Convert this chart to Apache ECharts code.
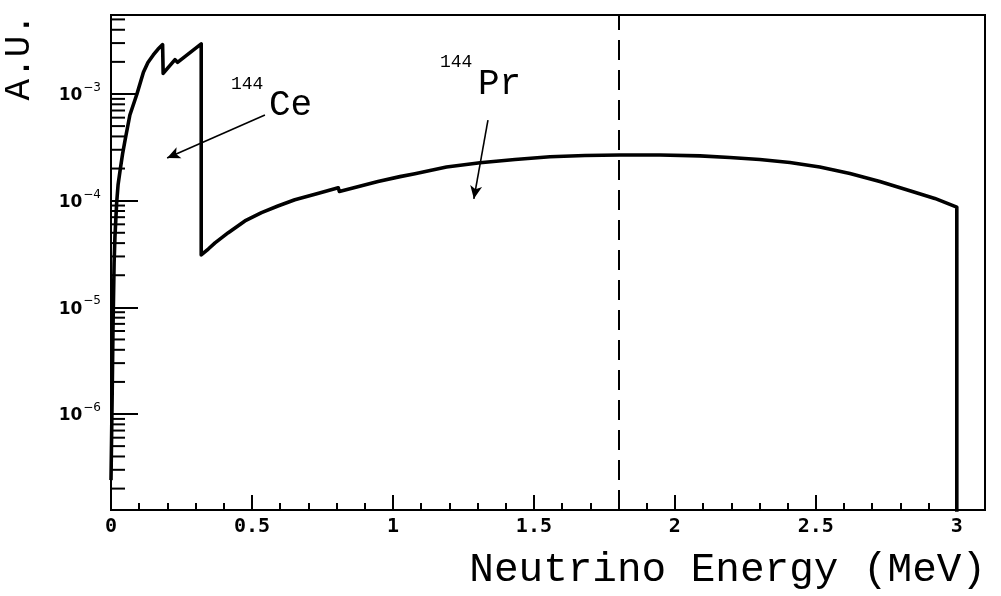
<!DOCTYPE html>
<html>
<head>
<meta charset="utf-8">
<script src="https://cdn.jsdelivr.net/npm/echarts@6/dist/echarts.min.js"></script>
<style>
  html, body { margin: 0; padding: 0; background: #fff; }
  #chart { width: 1001px; height: 596px; }
</style>
</head>
<body>
<div id="chart"></div>
<script>
// spectrum: energy in MeV, intensity in A.U.
const energy = [
  0, 0.004, 0.007, 0.011, 0.014, 0.020, 0.025, 0.032, 0.041, 0.050, 0.067, 0.092, 0.115, 0.131, 0.150, 0.167, 0.183,
  0.185, 0.227, 0.236, 0.320,
  0.320, 0.345, 0.369, 0.416, 0.475, 0.534, 0.592, 0.652, 0.730, 0.806,
  0.810, 0.947, 1.025, 1.078, 1.190, 1.309, 1.433, 1.557, 1.681, 1.805, 1.947, 2.089, 2.195, 2.301,
  2.408, 2.514, 2.621, 2.727, 2.845, 2.922, 3.000, 3.000]
const intensity = [
  2.4e-7, 1.4e-6, 6.1e-6, 2.6e-5, 4.6e-5, 9.5e-5, 1.40e-4, 1.9e-4, 2.74e-4, 3.7e-4, 6.35e-4, 1.0e-3, 1.60e-3, 1.97e-3, 2.32e-3, 2.64e-3, 2.9e-3,
  1.56e-3, 2.1e-3, 1.98e-3, 2.95e-3,
  3.1e-5, 3.52e-5, 4.02e-5, 5.01e-5, 6.46e-5, 7.73e-5, 8.91e-5, 1.02e-4, 1.16e-4, 1.32e-4,
  1.22e-4, 1.51e-4, 1.68e-4, 1.79e-4, 2.07e-4, 2.27e-4, 2.43e-4, 2.58e-4, 2.65e-4, 2.68e-4, 2.68e-4, 2.63e-4, 2.54e-4, 2.43e-4,
  2.28e-4, 2.07e-4, 1.80e-4, 1.51e-4, 1.21e-4, 1.05e-4, 8.7e-5, 1e-9]

const endpointEnergy = 1.805
// arrows [start, end] in data units
const ceArrow = [[0.546, 6.35e-4], [0.199, 2.51e-4]]
const prArrow = [[1.337, 5.7e-4], [1.287, 1.04e-4]]

const xMin = 0
const xMax = 3.1
const yMin = 1.26e-7
const yMax = 5.5e-3
const decades = [-7, -6, -5, -4, -3]

const minorTicks = []
decades.forEach((d) => {
  for (let k = 2; k <= 9; k++) {
    const v = k * Math.pow(10, d)
    if (v > yMin && v < yMax) minorTicks.push(v)
  }
})

const mono = '"Liberation Mono", "DejaVu Sans Mono", monospace'

const chart = echarts.init(document.getElementById('chart'))
chart.setOption({
  animation: false,
  grid: {
    left: 111, top: 15, right: 16, bottom: 86,
    show: true, borderColor: '#000', borderWidth: 2,
  },
  xAxis: {
    type: 'value',
    min: xMin,
    max: xMax,
    interval: 0.5,
    axisLine: { lineStyle: { color: '#000', width: 2 } },
    axisTick: { inside: true, length: 15, lineStyle: { color: '#000', width: 2 } },
    minorTick: { show: true, splitNumber: 5, length: 7, lineStyle: { color: '#000', width: 2 } },
    splitLine: { show: false },
    axisLabel: {
      margin: 7,
      color: '#000',
      fontFamily: '"DejaVu Sans Mono", monospace',
      fontWeight: 'bold',
      fontSize: 20,
      formatter: (v) => (Math.abs(v / 0.5 - Math.round(v / 0.5)) < 1e-6 ? String(v) : ''),
    },
  },
  yAxis: {
    type: 'log',
    logBase: 10,
    min: yMin,
    max: yMax,
    axisLine: { lineStyle: { color: '#000', width: 2 } },
    axisTick: { inside: true, length: 27, lineStyle: { color: '#000', width: 2 } },
    splitLine: { show: false },
    axisLabel: {
      margin: 10,
      color: '#000',
      formatter: (v) => {
        const e = Math.log10(v)
        if (Math.abs(e - Math.round(e)) > 1e-6) return ''
        return '{b|10}{s|−' + Math.abs(Math.round(e)) + '}'
      },
      rich: {
        b: { fontFamily: '"DejaVu Sans", sans-serif', fontWeight: 'bold', fontSize: 17, color: '#000', padding: [4, 0, 0, 0] },
        s: { fontFamily: '"DejaVu Sans", sans-serif', fontSize: 12, color: '#000', padding: [0, 0, 12, 1] },
      },
    },
  },
  series: [
    {
      type: 'line',
      data: energy.map((e, i) => [e, intensity[i]]),
      symbol: 'none',
      clip: true,
      lineStyle: { color: '#000', width: 3.6, join: 'round' },
      markLine: {
        silent: true,
        symbol: 'none',
        label: { show: false },
        lineStyle: { color: '#000', width: 2, type: [20, 10] },
        data: [{ xAxis: endpointEnergy }],
      },
      z: 2,
    },
    {
      type: 'line',
      data: [],
      markLine: {
        silent: true,
        symbol: ['none', 'arrow'],
        symbolSize: [9, 13],
        label: { show: false },
        lineStyle: { color: '#000', width: 1.6, type: 'solid' },
        data: [
          [{ coord: ceArrow[0] }, { coord: ceArrow[1] }],
          [{ coord: prArrow[0] }, { coord: prArrow[1] }],
        ],
      },
    },
    {
      type: 'custom',
      silent: true,
      clip: false,
      data: minorTicks.map((v) => [xMin, v]),
      renderItem: (params, api) => {
        const p = api.coord([xMin, api.value(1)])
        return {
          type: 'line',
          shape: { x1: p[0], y1: p[1], x2: p[0] + 14, y2: p[1] },
          style: { stroke: '#000', lineWidth: 2 },
        }
      },
      z: 3,
    },
  ],
  graphic: [
    { type: 'text', x: 231, y: 84, style: { text: '144', font: '18px ' + mono, fill: '#000', verticalAlign: 'middle' } },
    { type: 'text', x: 269, y: 105, style: { text: 'Ce', font: '36px ' + mono, fill: '#000', verticalAlign: 'middle' } },
    { type: 'text', x: 440, y: 62, style: { text: '144', font: '18px ' + mono, fill: '#000', verticalAlign: 'middle' } },
    { type: 'text', x: 478, y: 84, style: { text: 'Pr', font: '36px ' + mono, fill: '#000', verticalAlign: 'middle' } },
    { type: 'text', x: 986, y: 570, style: { text: 'Neutrino Energy (MeV)', font: '41px ' + mono, fill: '#000', align: 'right', verticalAlign: 'middle' } },
    { type: 'text', x: 19, y: 14, rotation: Math.PI / 2, style: { text: 'A.U.', font: '36px ' + mono, fill: '#000', align: 'right', verticalAlign: 'middle' } },
  ],
})
</script>
</body>
</html>
